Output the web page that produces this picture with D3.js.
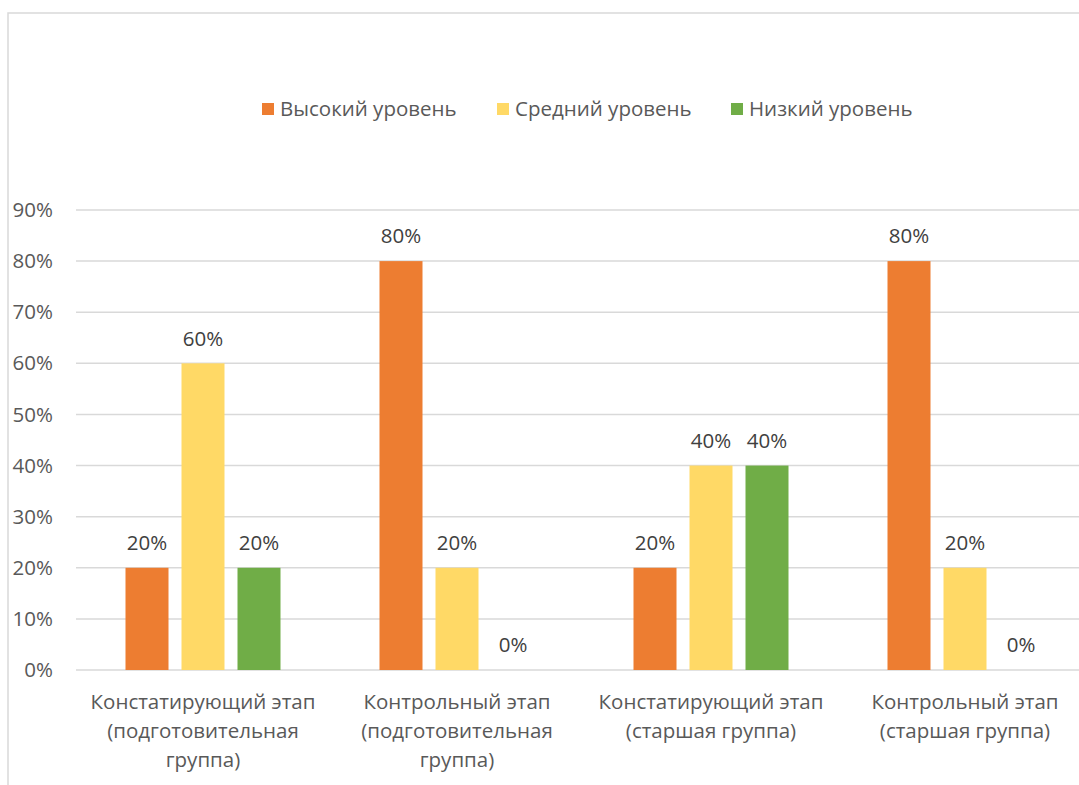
<!DOCTYPE html>
<html lang="ru">
<head>
<meta charset="UTF-8">
<title>Уровни по этапам</title>
<script src="https://d3js.org/d3.v7.min.js"></script>
<style>
  body { margin: 0; background: #fff; }
  svg { display: block; font-family: "Open Sans", "Noto Sans", sans-serif; }
</style>
</head>
<body>
<svg id="chart" width="1079" height="785"></svg>
<script>
// data
var categories = [
  ["Констатирующий этап", "(подготовительная", "группа)"],
  ["Контрольный этап", "(подготовительная", "группа)"],
  ["Констатирующий этап", "(старшая группа)"],
  ["Контрольный этап", "(старшая группа)"]
];
var seriesNames = ["Высокий уровень", "Средний уровень", "Низкий уровень"];
var high = [0.2, 0.8, 0.2, 0.8];
var mid = [0.6, 0.2, 0.4, 0.2];
var low = [0.2, 0, 0.4, 0];
var yTicks = [0, 0.1, 0.2, 0.3, 0.4, 0.5, 0.6, 0.7, 0.8, 0.9];
var colors = ["#ED7D31", "#FFD966", "#70AD47"];

var seriesValues = [high, mid, low];
var rows = categories.map(function(c, i) {
  return { idx: i, label: c, values: seriesValues.map(function(s, j) { return { series: seriesNames[j], v: s[i] }; }) };
});

var svg = d3.select("#chart");

// chart border (extends past the window on right/bottom)
svg.append("rect")
   .attr("x", 8).attr("y", 13)
   .attr("width", 1200).attr("height", 900)
   .attr("fill", "none")
   .attr("stroke", "#d9d9d9")
   .attr("stroke-width", 1.5);

var x0 = d3.scaleBand().domain(d3.range(categories.length)).range([76, 1092]);
var x1 = d3.scaleBand().domain(seriesNames).range([43, 211]).paddingInner(13 / 56).paddingOuter(13 / 112);
var y = d3.scaleLinear().domain([0, 0.9]).range([670, 210]);
var color = d3.scaleOrdinal().domain(seriesNames).range(colors);
var fmt = d3.format(".0%");

// gridlines
svg.append("g")
   .selectAll("line")
   .data(yTicks)
   .enter().append("line")
   .attr("x1", 76).attr("x2", 1079)
   .attr("y1", function(d) { return y(d); })
   .attr("y2", function(d) { return y(d); })
   .attr("stroke", "#d9d9d9")
   .attr("stroke-width", 1.5);

// y axis labels
var yAxis = svg.append("g")
   .attr("transform", "translate(62,0)")
   .call(d3.axisLeft(y).tickValues(yTicks).tickFormat(fmt).tickSize(0).tickPadding(9));
yAxis.select(".domain").remove();
yAxis.selectAll("text")
   .attr("fill", "#595959")
   .style("font-size", "20.5px")
   .style("font-family", "'Open Sans', sans-serif");

// bars
var groups = svg.append("g")
   .selectAll("g")
   .data(rows)
   .enter().append("g")
   .attr("transform", function(d) { return "translate(" + x0(d.idx) + ",0)"; });

groups.selectAll("rect")
   .data(function(d) { return d.values; })
   .enter().append("rect")
   .attr("x", function(d) { return x1(d.series); })
   .attr("width", x1.bandwidth())
   .attr("y", function(d) { return y(d.v); })
   .attr("height", function(d) { return y(0) - y(d.v); })
   .attr("fill", function(d) { return color(d.series); });

groups.selectAll("text.val")
   .data(function(d) { return d.values; })
   .enter().append("text")
   .attr("class", "val")
   .attr("x", function(d) { return x1(d.series) + x1.bandwidth() / 2; })
   .attr("y", function(d) { return y(d.v) - 25; })
   .attr("dy", "0.35em")
   .attr("text-anchor", "middle")
   .attr("fill", "#404040")
   .style("font-size", "20.5px")
   .text(function(d) { return fmt(d.v); });

// category labels
groups.append("text")
   .attr("x", x0.bandwidth() / 2)
   .attr("text-anchor", "middle")
   .attr("fill", "#595959")
   .style("font-size", "20.5px")
   .selectAll("tspan")
   .data(function(d) { return d.label; })
   .enter().append("tspan")
   .attr("x", x0.bandwidth() / 2)
   .attr("y", function(d, i) { return 702 + i * 29; })
   .attr("dy", "0.35em")
   .text(function(d) { return d; });

// legend
var legendX = [262, 497, 731];
var legend = svg.append("g")
   .selectAll("g")
   .data(seriesNames)
   .enter().append("g")
   .attr("transform", function(d, i) { return "translate(" + legendX[i] + ",109)"; });

legend.append("rect")
   .attr("x", 0).attr("y", -6)
   .attr("width", 12).attr("height", 12)
   .attr("fill", function(d) { return color(d); });

legend.append("text")
   .attr("x", 18)
   .attr("dy", "0.35em")
   .attr("fill", "#595959")
   .style("font-size", "20.5px")
   .text(function(d) { return d; });
</script>
</body>
</html>
